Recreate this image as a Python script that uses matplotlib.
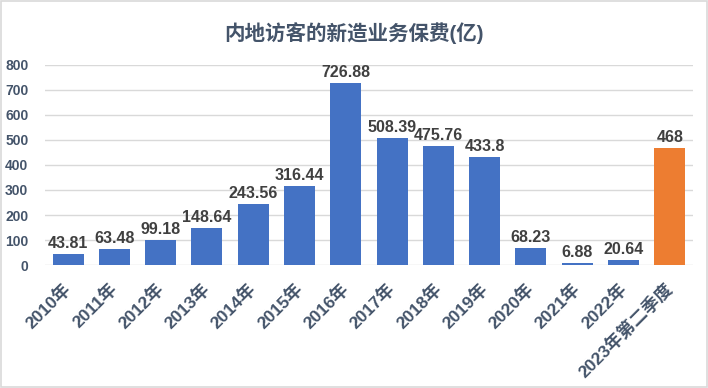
import matplotlib
matplotlib.use("Agg")
import matplotlib.pyplot as plt
from matplotlib.patches import Rectangle

plt.rcParams['font.family'] = ['Liberation Sans', 'Noto Sans CJK SC', 'DejaVu Sans']

years = ["2010年", "2011年", "2012年", "2013年", "2014年", "2015年", "2016年",
         "2017年", "2018年", "2019年", "2020年", "2021年", "2022年", "2023年第二季度"]
values = [43.81, 63.48, 99.18, 148.64, 243.56, 316.44, 726.88,
          508.39, 475.76, 433.8, 68.23, 6.88, 20.64, 468]
labels = ["43.81", "63.48", "99.18", "148.64", "243.56", "316.44", "726.88",
          "508.39", "475.76", "433.8", "68.23", "6.88", "20.64", "468"]

blue = "#4472C4"
orange = "#ED7D31"
txt = "#44546A"
colors = [blue] * (len(values) - 1) + [orange]

fig = plt.figure(figsize=(7.08, 3.88), dpi=100)
ax = fig.add_axes([0.0636, 0.317, 0.915, 0.5155])

x = range(len(values))
ax.bar(x, values, width=0.67, color=colors, zorder=3)
for i, v in enumerate(values):
    ax.text(i, v + 12, labels[i], ha='center', va='bottom', fontsize=11.5,
            fontweight='bold', color="#404040", zorder=4)

ax.set_ylim(0, 800)
ax.set_xlim(-0.5, len(values) - 0.5)
ax.set_yticks(range(0, 801, 100))
ax.yaxis.grid(True, color="#d9d9d9", linewidth=1, zorder=0)
for s in ax.spines.values():
    s.set_visible(False)
ax.tick_params(axis='both', length=0)
ax.tick_params(axis='y', pad=12)
ax.tick_params(axis='x', pad=15)
ax.set_xticks(list(x))
ax.set_xticklabels(years, rotation=45, ha='right', va='center', rotation_mode='anchor',
                   fontsize=12.5, fontweight='bold', color=txt)
for t in ax.get_yticklabels():
    t.set_fontsize(10)
    t.set_fontweight('bold')
    t.set_color(txt)

fig.text(0.5, 0.915, "内地访客的新造业务保费(亿)", ha='center', va='center',
         fontsize=14.8, fontweight='bold', color=txt)

fig.patches.append(Rectangle((0.002, 0.003), 0.996, 0.994, transform=fig.transFigure,
                             fill=False, edgecolor="#d9d9d9", linewidth=1.2))

fig.savefig("out.png", dpi=100)
